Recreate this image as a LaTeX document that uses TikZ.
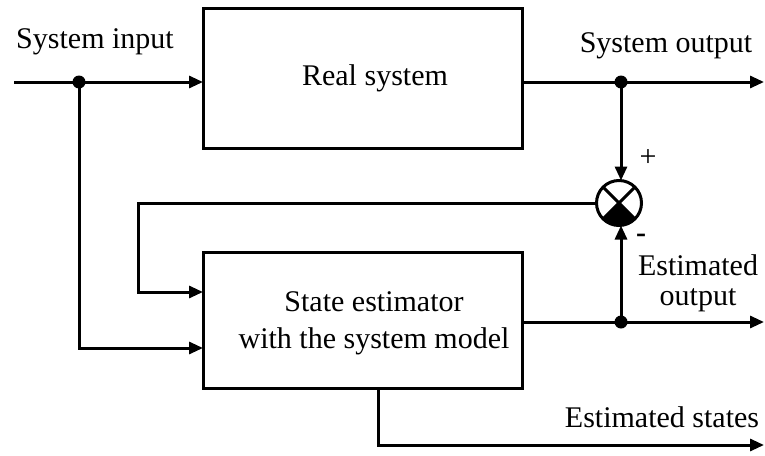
\documentclass[tikz,border=0pt]{standalone}
\usepackage{fontspec}
\setmainfont{Liberation Serif}
\usetikzlibrary{arrows.meta}
\begin{document}
\begin{tikzpicture}[x=1pt,y=-1pt,
  line width=3pt,
  >={Triangle[length=14pt,width=12pt]},
  block/.style={draw,minimum width=319pt,inner sep=0pt,outer sep=0pt},
  lbl/.style={inner sep=0pt,align=center},
  junct/.style={circle,fill,minimum size=13pt,inner sep=0pt},
  every node/.style={font=\fontsize{30}{37}\selectfont}]
\useasboundingbox (0,0) rectangle (765,455);

% blocks
\node[block,minimum height=140pt] (real) at (362.5,78) {};
\node[block,minimum height=136pt] (est) at (362.5,320) {};
\node[lbl] (treal) at (375,78) {Real system};
\node[lbl] (test) at (374,323) {State estimator\\with the system model};

% summing junction
\node[circle,draw,minimum size=45pt,inner sep=0pt,outer sep=0pt] (sum) at (619,203) {};
\fill (sum.center) -- (sum.south east) arc[start angle=-45,end angle=-135,radius=22.5pt] -- cycle;
\draw (sum.north west) -- (sum.south east);
\draw (sum.north east) -- (sum.south west);

% branch points and free ends
\node[junct] (din) at (79,82) {};
\node[junct] (dout) at (621,82) {};
\node[junct] (dest) at (621,322) {};
\coordinate (inStart) at (14,82);
\coordinate (outEnd) at (764,82);
\coordinate (estEnd) at (764,322);
\coordinate (stEnd) at (764,445);

% signals
\draw (inStart) -- (din.center);
\draw[->] (din.center) -- (real.west |- din);
\draw (real.east |- dout) -- (dout.center);
\draw[->] (dout.center) -- (outEnd);
\draw[->] (dout.center) -- (sum.north -| dout);
\draw[->] (din.center) |- (est.west |- 0,348);
\draw[->] (sum.west) -| (138,292) -- (est.west |- 0,292);
\draw (est.east |- dest) -- (dest.center);
\draw[->] (dest.center) -- (estEnd);
\draw[->] (dest.center) -- (sum.south -| dest);
\draw[->] (est.south -| 378,0) |- (stEnd);

% labels
\node[lbl] (tin) at (95,42) {System input};
\node[lbl] (tout) at (666,46) {System output};
\node[lbl] (tplus) at (648,158) {+};
\node[lbl,font=\fontsize{30}{37}\selectfont\bfseries] (tminus) at (641,238) {-};
\node[lbl] (testout) at (698,283) {Estimated\\[-7pt]output};
\node[lbl] (tstates) at (662,417) {Estimated states};
\end{tikzpicture}
\end{document}
